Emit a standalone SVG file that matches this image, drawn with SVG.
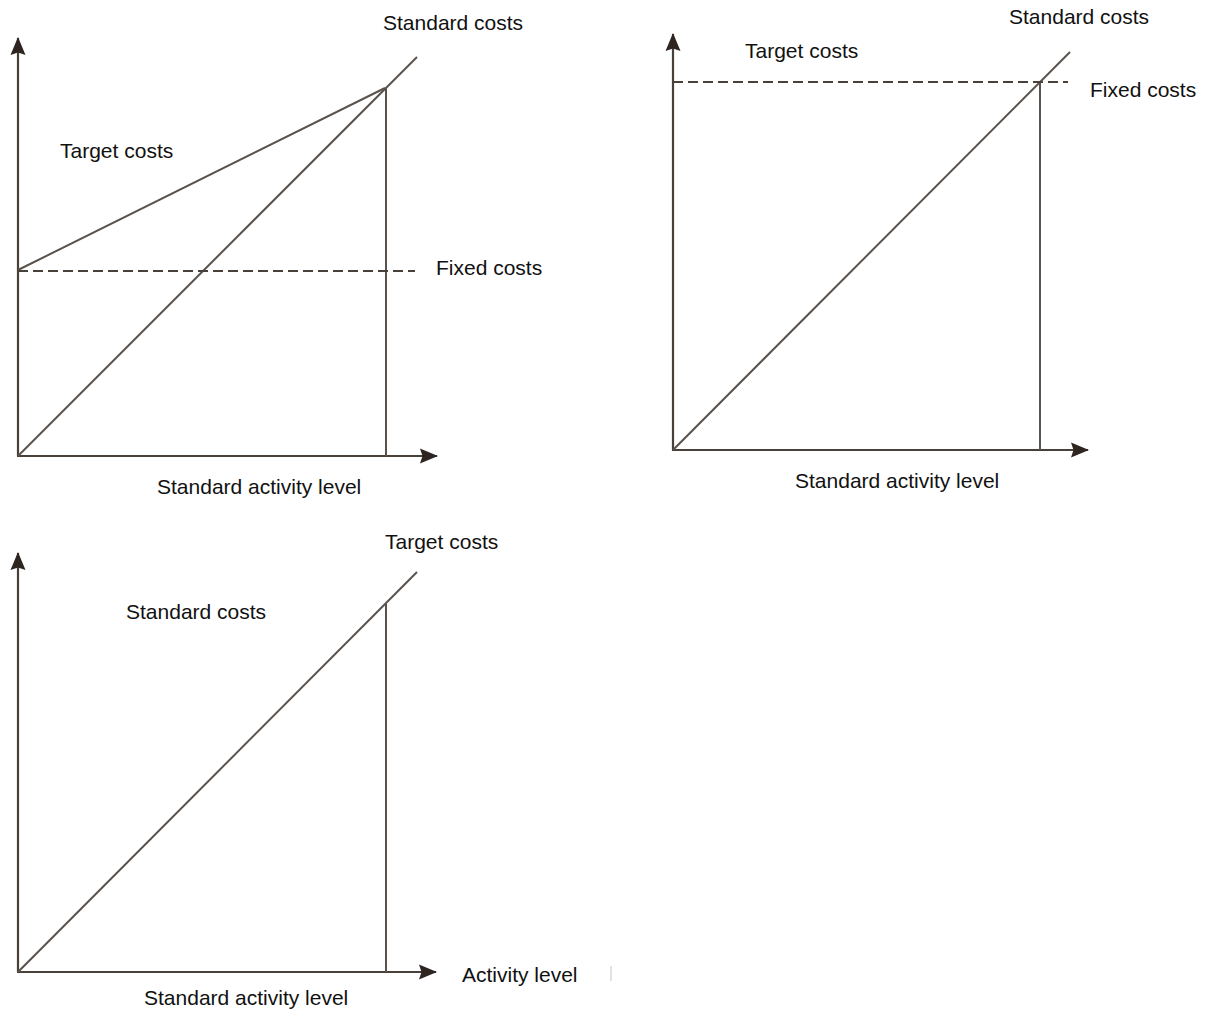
<svg xmlns="http://www.w3.org/2000/svg" width="1205" height="1014" viewBox="0 0 1205 1014">
  <defs>
    <marker id="arrow" markerUnits="userSpaceOnUse" markerWidth="18" markerHeight="16" refX="17" refY="8" orient="auto">
      <path d="M0,0.5 L18,8 L0,15.5 L2.5,8 Z" fill="#2e2520"/>
    </marker>
    <style>
      .axis { stroke: #4a403a; stroke-width: 2.2; fill: none; }
      .line { stroke: #5a524c; stroke-width: 2; fill: none; }
      .dash { stroke: #4a403a; stroke-width: 2; stroke-dasharray: 10 5; fill: none; }
      .lbl { font-family: "Liberation Sans", Arial, sans-serif; font-size: 21px; fill: #111; }
    </style>
  </defs>
  <rect width="1205" height="1014" fill="#ffffff"/>

  <!-- Chart 1: fixed + variable costs -->
  <g id="chart1">
    <g id="chart1-connectors">
      <line class="axis" x1="18" y1="456" x2="18" y2="38" marker-end="url(#arrow)"/>
      <line class="axis" x1="17" y1="456" x2="437" y2="456" marker-end="url(#arrow)"/>
      <line class="line" x1="386" y1="88" x2="386" y2="456"/>
      <line class="line" x1="18" y1="456" x2="417" y2="57"/>
      <line class="line" x1="18" y1="270" x2="385" y2="88"/>
      <line class="dash" x1="18" y1="271" x2="415" y2="271"/>
    </g>
    <text class="lbl" x="383" y="30">Standard costs</text>
    <text class="lbl" x="60" y="158">Target costs</text>
    <text class="lbl" x="436" y="275">Fixed costs</text>
    <text class="lbl" x="157" y="494">Standard activity level</text>
  </g>

  <!-- Chart 2: fixed costs level -->
  <g id="chart2">
    <g id="chart2-connectors">
      <line class="axis" x1="673" y1="450" x2="673" y2="34" marker-end="url(#arrow)"/>
      <line class="axis" x1="672" y1="450" x2="1088" y2="450" marker-end="url(#arrow)"/>
      <line class="line" x1="1040" y1="82" x2="1040" y2="450"/>
      <line class="line" x1="673" y1="450" x2="1070" y2="52"/>
      <line class="dash" x1="673" y1="82" x2="1068" y2="82"/>
    </g>
    <text class="lbl" x="1009" y="24">Standard costs</text>
    <text class="lbl" x="745" y="58">Target costs</text>
    <text class="lbl" x="1090" y="97">Fixed costs</text>
    <text class="lbl" x="795" y="488">Standard activity level</text>
  </g>

  <!-- Chart 3: variable costs -->
  <g id="chart3">
    <g id="chart3-connectors">
      <line class="axis" x1="18" y1="972" x2="18" y2="553" marker-end="url(#arrow)"/>
      <line class="axis" x1="17" y1="972" x2="436" y2="972" marker-end="url(#arrow)"/>
      <line class="line" x1="386" y1="604" x2="386" y2="972"/>
      <line class="line" x1="18" y1="972" x2="417" y2="572"/>
      <line x1="611" y1="966" x2="611" y2="981" stroke="#d8d8d8" stroke-width="1.5"/>
    </g>
    <text class="lbl" x="385" y="549">Target costs</text>
    <text class="lbl" x="126" y="619">Standard costs</text>
    <text class="lbl" x="462" y="982">Activity level</text>
    <text class="lbl" x="144" y="1005">Standard activity level</text>
  </g>
</svg>
